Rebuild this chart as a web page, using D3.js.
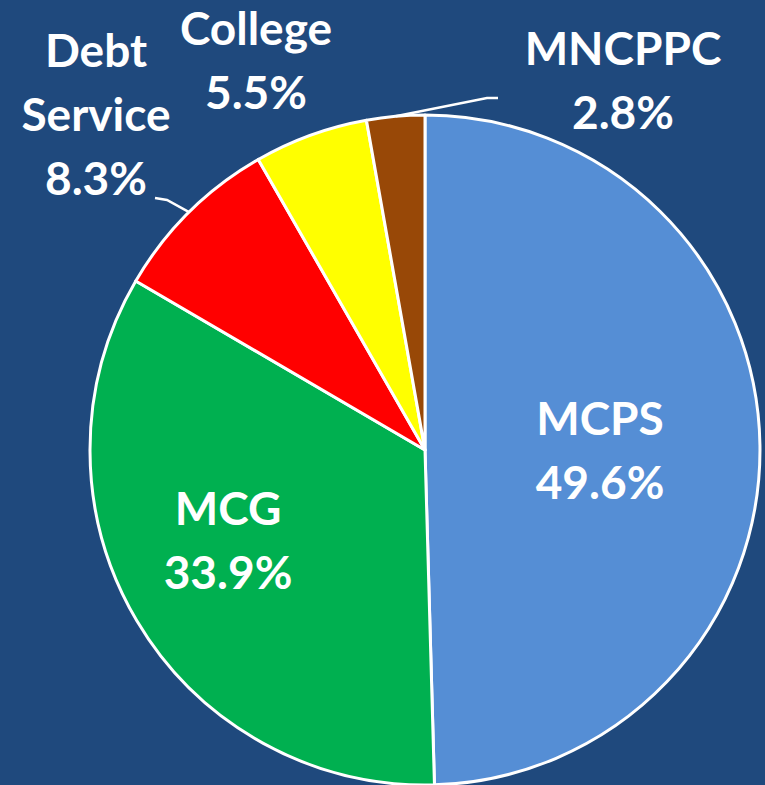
<!DOCTYPE html>
<html>
<head>
<meta charset="utf-8">
<script src="https://cdn.jsdelivr.net/npm/d3@7"></script>
<style>
  html, body { margin: 0; padding: 0; background: #1F497D; }
  svg { display: block; }
  .slice-label { font-family: Lato, "Open Sans", sans-serif; font-weight: 700; fill: #fff; }
</style>
</head>
<body>
<svg id="chart"></svg>
<script>
// data
const agencies = ["MCPS", "MCG", "Debt Service", "College", "MNCPPC"];
const shares = [49.6, 33.9, 8.3, 5.5, 2.8];
const sliceColors = ["#558ED5", "#00B050", "#FF0000", "#FFFF00", "#984807"];

const width = 765, height = 785;
const cx = 425, cy = 450, radius = 335;

// where each label block sits, relative to pie centre (x centre, first baseline)
const labelLayout = {
  "MCPS":         { x: 175,  y: -15,  lines: ["MCPS"] },
  "MCG":          { x: -197, y: 75,   lines: ["MCG"] },
  "Debt Service": { x: -329, y: -383, lines: ["Debt", "Service"], leader: [[-258, -250], [-270, -252]] },
  "College":      { x: -169, y: -405, lines: ["College"] },
  "MNCPPC":       { x: 198,  y: -385, lines: ["MNCPPC"], leader: [[62, -352], [73, -352]] }
};
const lineGap = 64;

const data = agencies.map((name, i) => ({ name, value: shares[i], color: sliceColors[i] }));

const svg = d3.select('#chart')
  .attr('width', width)
  .attr('height', height);

svg.append('rect')
  .attr('width', width)
  .attr('height', height)
  .attr('fill', '#1F497D');

const chart = svg.append('g')
  .attr('transform', `translate(${cx},${cy})`);

const pie = d3.pie().sort(null).value(d => d.value);
const arc = d3.arc().innerRadius(0).outerRadius(radius);
const arcs = pie(data);

chart.selectAll('.slice')
  .data(arcs)
  .join('path')
  .attr('class', 'slice')
  .attr('d', arc)
  .attr('fill', d => d.data.color)
  .attr('stroke', '#fff')
  .attr('stroke-width', 3)
  .attr('stroke-linejoin', 'round');

// leader lines for the small outside labels
const edgeArc = d3.arc().innerRadius(radius).outerRadius(radius);
arcs.filter(d => labelLayout[d.data.name].leader).forEach(d => {
  const start = edgeArc.centroid(d);
  const pts = [start].concat(labelLayout[d.data.name].leader);
  chart.append('path')
    .attr('d', d3.line()(pts))
    .attr('fill', 'none')
    .attr('stroke', '#fff')
    .attr('stroke-width', 2.5);
});

const labels = chart.selectAll('.slice-label')
  .data(arcs)
  .join('text')
  .attr('class', 'slice-label')
  .attr('text-anchor', 'middle')
  .attr('font-size', 46)
  .attr('transform', d => `translate(${labelLayout[d.data.name].x},${labelLayout[d.data.name].y})`);

labels.each(function(d) {
  const lines = labelLayout[d.data.name].lines.concat([d.data.value.toFixed(1) + '%']);
  d3.select(this).selectAll('tspan')
    .data(lines)
    .join('tspan')
    .attr('x', 0)
    .attr('y', (l, i) => i * lineGap)
    .text(l => l);
});
</script>
</body>
</html>
